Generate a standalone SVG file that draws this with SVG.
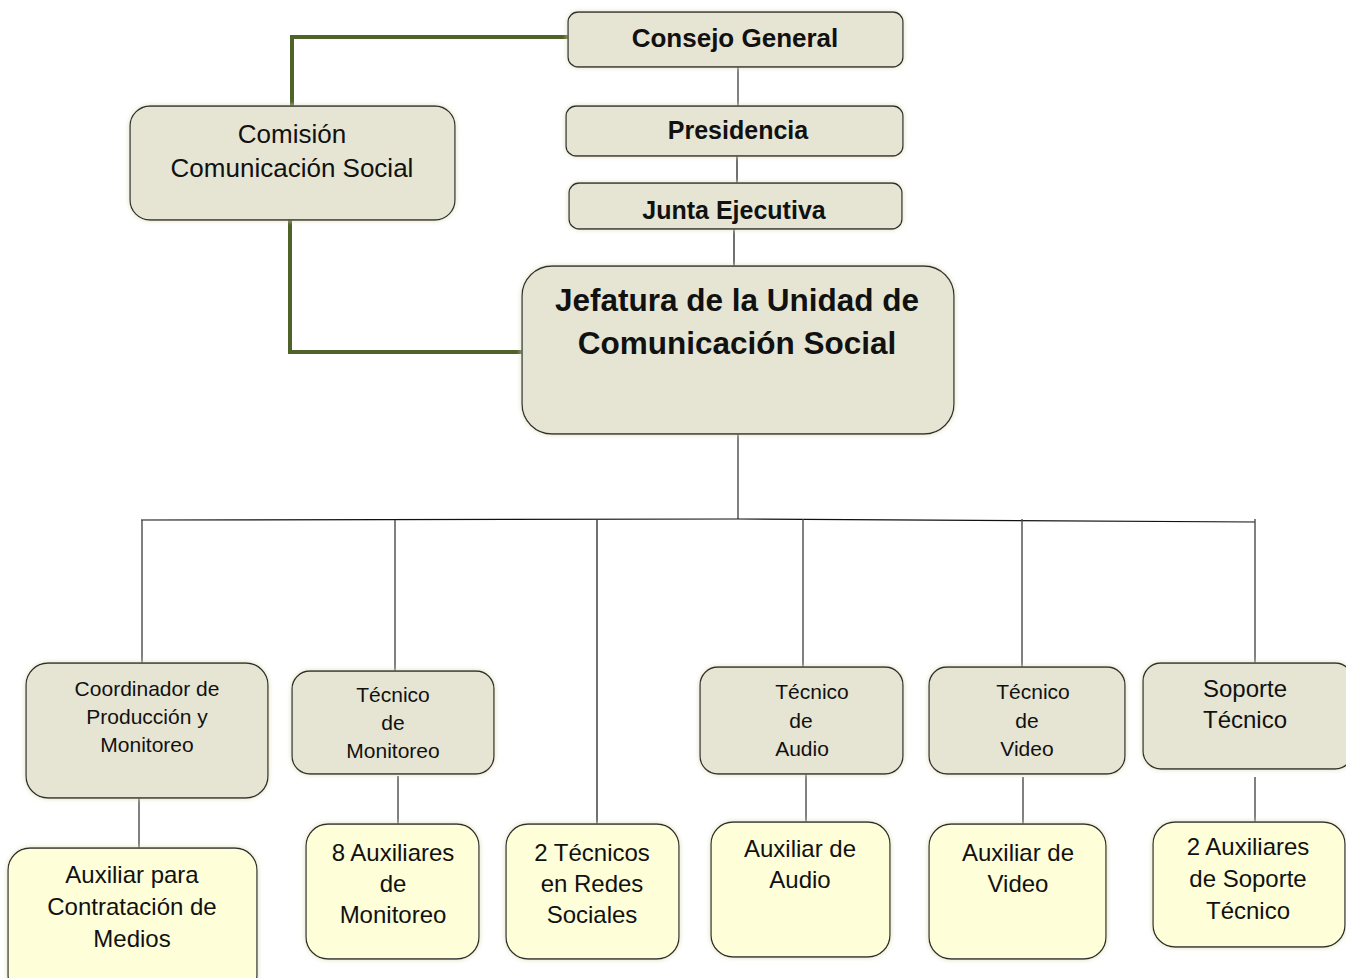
<svg xmlns="http://www.w3.org/2000/svg" width="1346" height="978" viewBox="0 0 1346 978">
<defs>
<filter id="glow" x="-10%" y="-10%" width="120%" height="120%">
<feDropShadow dx="0" dy="0" stdDeviation="2.5" flood-color="#dcdcb8" flood-opacity="0.9"/>
</filter>
</defs>
<style>
.g{fill:#e6e5d3;stroke:#2e2e2e;stroke-width:1.3;filter:url(#glow)}
.y{fill:#fefed8;stroke:#2e2e2e;stroke-width:1.3;filter:url(#glow)}
.t{font-family:"Liberation Sans",Arial,sans-serif;fill:#111;text-anchor:middle}
.b{font-weight:bold}
.c{stroke:#4a4a4a;stroke-width:1.4;fill:none}
.k{stroke:#111;stroke-width:1.2;fill:none}
.gr{stroke:#4f6228;stroke-width:4;fill:none}
</style>
<rect width="1346" height="978" fill="#fff"/>
<g id="connectors">
<polyline class="gr" points="568,37 292,37 292,106"/>
<polyline class="gr" points="290,220 290,352 522,352"/>
<line class="c" x1="738" y1="67" x2="738" y2="106"/>
<line class="k" x1="737" y1="150" x2="737" y2="184"/>
<line class="k" x1="734" y1="225" x2="734" y2="266"/>
<line class="c" x1="738" y1="434" x2="738" y2="519"/>
<polyline class="k" points="141,520 738,519 1255,522"/>
<line class="c" x1="142" y1="520" x2="142" y2="663"/>
<line class="c" x1="395" y1="520" x2="395" y2="671"/>
<line class="k" x1="597" y1="520" x2="597" y2="824"/>
<line class="c" x1="803" y1="519" x2="803" y2="667"/>
<line class="c" x1="1022" y1="519" x2="1022" y2="668"/>
<line class="c" x1="1255" y1="519" x2="1255" y2="663"/>
<line class="c" x1="139" y1="798" x2="139" y2="848"/>
<line class="c" x1="398" y1="776" x2="398" y2="824"/>
<line class="c" x1="806" y1="774" x2="806" y2="822"/>
<line class="c" x1="1023" y1="777" x2="1023" y2="824"/>
<line class="c" x1="1255" y1="777" x2="1255" y2="822"/>
</g>
<g id="consejo">
<rect class="g" x="568" y="12" width="335" height="55" rx="10"/>
<text class="t b" x="735" y="47" font-size="26">Consejo General</text>
</g>
<g id="presidencia">
<rect class="g" x="566" y="106" width="337" height="50" rx="10"/>
<text class="t b" x="738" y="139" font-size="25">Presidencia</text>
</g>
<g id="junta">
<rect class="g" x="569" y="183" width="333" height="46" rx="10"/>
<text class="t b" x="734" y="219" font-size="25">Junta Ejecutiva</text>
</g>
<g id="comision">
<rect class="g" x="130" y="106" width="325" height="114" rx="20"/>
<text class="t" x="292" y="143" font-size="26">Comisión</text>
<text class="t" x="292" y="177" font-size="26">Comunicación Social</text>
</g>
<g id="jefatura">
<rect class="g" x="522" y="266" width="432" height="168" rx="30"/>
<text class="t b" x="737" y="311" font-size="31.5">Jefatura de la Unidad de</text>
<text class="t b" x="737" y="354" font-size="31.5">Comunicación Social</text>
</g>
<g id="coordinador">
<rect class="g" x="26" y="663" width="242" height="135" rx="22"/>
<text class="t" x="147" y="696" font-size="21">Coordinador de</text>
<text class="t" x="147" y="724" font-size="21">Producción y</text>
<text class="t" x="147" y="752" font-size="21">Monitoreo</text>
</g>
<g id="tec-monitoreo">
<rect class="g" x="292" y="671" width="202" height="103" rx="18"/>
<text class="t" x="393" y="702" font-size="21">Técnico</text>
<text class="t" x="393" y="730" font-size="21">de</text>
<text class="t" x="393" y="758" font-size="21">Monitoreo</text>
</g>
<g id="tec-audio">
<rect class="g" x="700" y="667" width="203" height="107" rx="18"/>
<text class="t" x="812" y="699" font-size="21">Técnico</text>
<text class="t" x="801" y="728" font-size="21">de</text>
<text class="t" x="802" y="756" font-size="21">Audio</text>
</g>
<g id="tec-video">
<rect class="g" x="929" y="667" width="196" height="107" rx="18"/>
<text class="t" x="1033" y="699" font-size="21">Técnico</text>
<text class="t" x="1027" y="728" font-size="21">de</text>
<text class="t" x="1027" y="756" font-size="21">Video</text>
</g>
<g id="soporte">
<rect class="g" x="1143" y="663" width="210" height="106" rx="18"/>
<text class="t" x="1245" y="697" font-size="24">Soporte</text>
<text class="t" x="1245" y="728" font-size="24">Técnico</text>
</g>
<g id="aux-contratacion">
<rect class="y" x="8" y="848" width="249" height="150" rx="22"/>
<text class="t" x="132" y="883" font-size="24">Auxiliar para</text>
<text class="t" x="132" y="915" font-size="24">Contratación de</text>
<text class="t" x="132" y="947" font-size="24">Medios</text>
</g>
<g id="aux-monitoreo">
<rect class="y" x="306" y="824" width="173" height="135" rx="22"/>
<text class="t" x="393" y="861" font-size="24">8 Auxiliares</text>
<text class="t" x="393" y="892" font-size="24">de</text>
<text class="t" x="393" y="923" font-size="24">Monitoreo</text>
</g>
<g id="tec-redes">
<rect class="y" x="506" y="824" width="173" height="135" rx="22"/>
<text class="t" x="592" y="861" font-size="24">2 Técnicos</text>
<text class="t" x="592" y="892" font-size="24">en Redes</text>
<text class="t" x="592" y="923" font-size="24">Sociales</text>
</g>
<g id="aux-audio">
<rect class="y" x="711" y="822" width="179" height="135" rx="22"/>
<text class="t" x="800" y="857" font-size="24">Auxiliar de</text>
<text class="t" x="800" y="888" font-size="24">Audio</text>
</g>
<g id="aux-video">
<rect class="y" x="929" y="824" width="177" height="135" rx="22"/>
<text class="t" x="1018" y="861" font-size="24">Auxiliar de</text>
<text class="t" x="1018" y="892" font-size="24">Video</text>
</g>
<g id="aux-soporte">
<rect class="y" x="1153" y="822" width="192" height="125" rx="22"/>
<text class="t" x="1248" y="855" font-size="24">2 Auxiliares</text>
<text class="t" x="1248" y="887" font-size="24">de Soporte</text>
<text class="t" x="1248" y="919" font-size="24">Técnico</text>
</g>
</svg>
